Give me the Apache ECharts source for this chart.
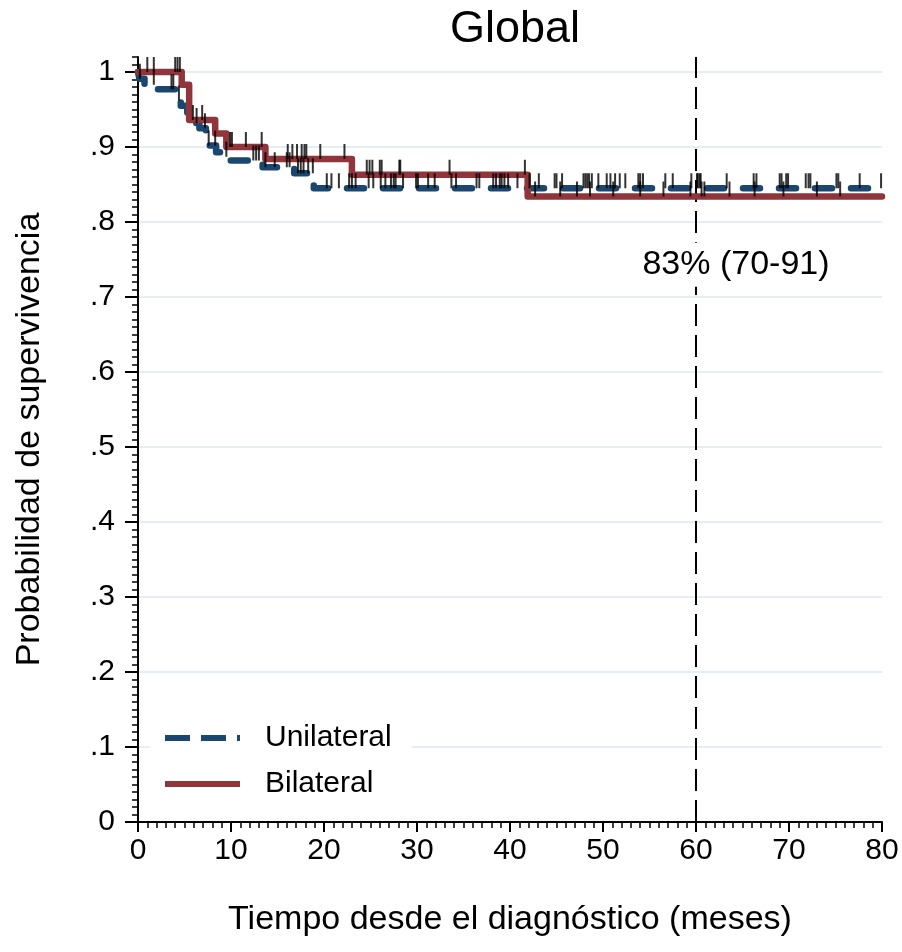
<!DOCTYPE html>
<html><head><meta charset="utf-8">
<script src="https://cdn.jsdelivr.net/npm/echarts@6/dist/echarts.min.js"></script>
<style>html,body{margin:0;padding:0;background:#fff}#c{width:902px;height:952px}</style>
</head><body><div id="c"></div>
<script>
// ---------- data ----------
const titleText = 'Global';
const xTitle = 'Tiempo desde el diagnóstico (meses)';
const yTitle = 'Probabilidad de supervivencia';
const groupNames = ['Unilateral', 'Bilateral'];
const yTickValues = [0, 0.1, 0.2, 0.3, 0.4, 0.5, 0.6, 0.7, 0.8, 0.9, 1.0];
const gridValues = [0.1, 0.2, 0.3, 0.4, 0.5, 0.6, 0.7, 0.8, 0.9, 1.0];
const followUpEnd = 80;

// Unilateral Kaplan-Meier steps
const uniTimes = [0, 0.15, 0.7, 1.8, 4.1, 4.6, 5.3, 5.9, 6.6, 7.3, 7.6, 8.4, 8.9, 9.8, 13.4, 16.8, 18.9];
const uniSurv  = [1.0, 0.991, 0.983, 0.977, 0.962, 0.955, 0.946, 0.932, 0.925, 0.918, 0.902, 0.893, 0.887, 0.882, 0.873, 0.865, 0.845];
// Bilateral Kaplan-Meier steps
const biTimes = [0, 4.7, 5.5, 8.3, 9.5, 13.7, 23.0, 41.9];
const biSurv  = [1.0, 0.983, 0.936, 0.918, 0.9, 0.884, 0.863, 0.834];

// censored observations (months)
const uniCensor = [0.2, 1.7, 3.6, 3.8, 4.4, 6.3, 7.2, 7.6, 8.3, 9.5, 12.4, 12.7, 13.0, 13.7, 14.7, 16.0, 16.3, 17.2, 17.5, 17.8, 18.3, 18.8, 20.3, 20.8, 21.6, 22.7, 23.0, 23.4, 24.8, 25.3, 26.1, 26.6, 27.2, 27.5, 27.7, 28.5, 29.9, 30.1, 31.2, 31.9, 33.7, 34.2, 36.4, 36.7, 38.2, 38.5, 38.9, 39.1, 39.4, 39.8, 40.8, 42.1, 43.1, 44.8, 45.0, 45.6, 47.9, 48.1, 48.3, 48.5, 48.8, 49.5, 50.4, 50.8, 51.3, 51.8, 52.4, 53.8, 54.0, 54.3, 56.7, 57.5, 59.5, 60.1, 60.2, 60.4, 60.5, 63.3, 66.2, 66.5, 69.0, 69.2, 69.7, 69.9, 71.8, 72.1, 72.3, 75.1, 75.3, 77.6, 79.9];
const biCensor = [1.0, 1.7, 4.0, 4.25, 4.5, 5.9, 6.9, 9.9, 10.1, 11.6, 13.3, 16.1, 16.6, 17.1, 17.6, 17.9, 18.1, 19.6, 22.2, 24.6, 24.9, 25.2, 26.0, 26.2, 28.1, 28.2, 33.5, 41.6, 42.7, 45.4, 47.2, 48.6, 51.1, 54.0, 56.5, 59.4, 60.6, 60.9, 63.6, 66.3, 69.4, 73.0, 75.5];

const refTime = 60;
const annotText = '83% (70-91)';
const annotPoint = [64.3, 0.743];

// ---------- build ----------
const FONT = 'Liberation Sans, Arial, Helvetica, sans-serif';
const BLUE = '#1a476f', RED = '#90353b';
const uniLine = {color: BLUE, width: 6.5, type: [17, 19], cap: 'round', join: 'round'};
const biLine = {color: RED, width: 6.5, type: 'solid', cap: 'round', join: 'round'};

function stepData(times, surv) {
  const d = times.map((t, i) => [t, surv[i]]);
  d.push([followUpEnd, surv[surv.length - 1]]);
  return d;
}
function survAt(times, surv, t) {
  let s = surv[0];
  for (let i = 0; i < times.length; i++) if (times[i] <= t) s = surv[i];
  return s;
}
function censorData(ct, times, surv) { return ct.map(t => [t, survAt(times, surv, t)]); }

function yFmt(v) {
  if (Math.abs(v) < 1e-9) return '0';
  if (Math.abs(v - 1) < 1e-9) return '1';
  const k = Math.round(v * 10);
  if (Math.abs(v * 10 - k) > 1e-6) return '';
  return '.' + k;
}

const chart = echarts.init(document.getElementById('c'), null, {renderer: 'canvas'});
const censorStyle = {
  type: 'scatter', symbol: 'rect', symbolSize: [2, 15], symbolOffset: [0, -7.5],
  itemStyle: {color: '#000'}, z: 6, silent: true, animation: false
};

chart.setOption({
  animation: false,
  backgroundColor: '#fff',
  title: {
    text: titleText, left: 445, top: 2,
    textStyle: {fontFamily: FONT, fontSize: 45, fontWeight: 'normal', color: '#000'}
  },
  grid: {left: 138, right: 20, top: 57, bottom: 130, containLabel: false},
  legend: {
    data: [
      {name: groupNames[0], itemStyle: {opacity: 0}, lineStyle: {color: BLUE, width: 6, type: [25, 11], cap: 'butt'}},
      {name: groupNames[1], itemStyle: {opacity: 0}, lineStyle: {color: RED, width: 6, type: 'solid', cap: 'butt'}}
    ],
    orient: 'vertical', left: 150, top: 715,
    backgroundColor: '#fff', padding: [8, 20, 8, 12],
    itemWidth: 75, itemHeight: 30, itemGap: 16,
    itemStyle: {opacity: 0},
    lineStyle: {width: 6},
    textStyle: {fontFamily: FONT, fontSize: 30, color: '#000', padding: [0, 0, 0, 20]},
    selectedMode: false
  },
  xAxis: {
    type: 'value', min: 0, max: 80, interval: 10,
    name: xTitle, nameLocation: 'middle', nameGap: 81,
    nameTextStyle: {fontFamily: FONT, fontSize: 34, color: '#000', verticalAlign: 'top'},
    axisLine: {show: true, onZero: false, lineStyle: {color: '#000', width: 2}},
    axisTick: {show: true, length: 10, lineStyle: {color: '#000', width: 2}},
    minorTick: {show: true, splitNumber: 10, length: 6, lineStyle: {color: '#000', width: 1.5}},
    axisLabel: {fontFamily: FONT, fontSize: 30, color: '#000', margin: 14},
    splitLine: {show: false}
  },
  yAxis: [
    {
      type: 'value', min: 0, max: 1.02, interval: 0.01, position: 'left',
      axisLine: {show: true, onZero: false, lineStyle: {color: '#000', width: 2}},
      axisTick: {show: true, length: 6, lineStyle: {color: '#000', width: 1.5}},
      axisLabel: {show: false}, splitLine: {show: false}
    },
    {
      type: 'value', min: 0, max: 1.02, interval: 0.1, position: 'left', offset: 0,
      name: yTitle, nameLocation: 'middle', nameGap: 91, nameRotate: 90,
      nameTextStyle: {fontFamily: FONT, fontSize: 34, color: '#000'},
      axisLine: {show: false},
      axisTick: {show: true, length: 13, customValues: yTickValues, lineStyle: {color: '#000', width: 2}},
      axisLabel: {fontFamily: FONT, fontSize: 30, color: '#000', margin: 23, customValues: yTickValues, formatter: yFmt},
      splitLine: {show: false}
    }
  ],
  series: [
    {
      name: 'grid', type: 'line', data: [], z: 0, silent: true,
      markLine: {
        silent: true, z: 0, symbol: ['none', 'none'], label: {show: false},
        lineStyle: {color: '#dfe9ef', width: 1.5, type: 'solid'},
        data: gridValues.map(v => ({yAxis: v}))
      }
    },
    {
      name: groupNames[0], type: 'line', step: 'end', showSymbol: false, symbol: 'none', z: 3,
      data: stepData(uniTimes, uniSurv),
      itemStyle: {color: BLUE},
      lineStyle: uniLine
    },
    {
      name: groupNames[1], type: 'line', step: 'end', showSymbol: false, symbol: 'none', z: 4,
      data: stepData(biTimes, biSurv),
      itemStyle: {color: RED},
      lineStyle: biLine
    },
    Object.assign({name: 'cU', data: censorData(uniCensor, uniTimes, uniSurv)}, censorStyle),
    Object.assign({name: 'cB', data: censorData(biCensor, biTimes, biSurv)}, censorStyle),
    {
      name: 'ref', type: 'scatter', z: 7, silent: true,
      data: [annotPoint], symbolSize: 1, itemStyle: {color: 'rgba(0,0,0,0)'},
      label: {
        show: true, position: 'inside', formatter: annotText,
        fontFamily: FONT, fontSize: 34, color: '#000', textBorderWidth: 0, opacity: 1,
        backgroundColor: '#fff', padding: [5, 3]
      },
      markLine: {
        silent: true, symbol: ['none', 'none'], label: {show: false}, z: 2,
        lineStyle: {color: '#000', width: 2, type: [22, 9]},
        data: [{xAxis: refTime}]
      }
    }
  ]
});
</script></body></html>
